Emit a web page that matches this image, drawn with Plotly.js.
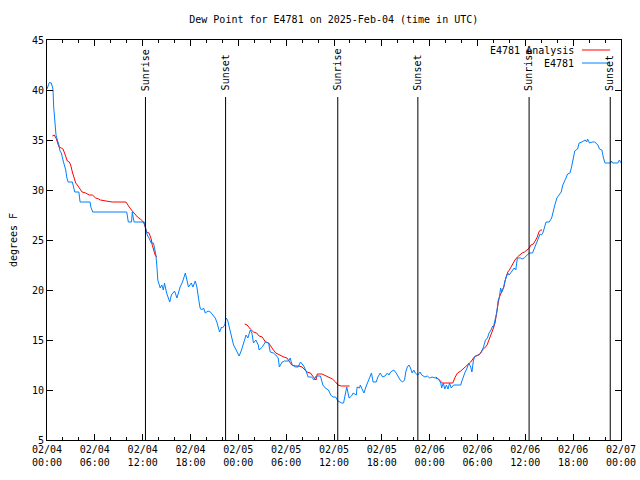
<!DOCTYPE html>
<html><head><meta charset="utf-8">
<script src="https://cdn.plot.ly/plotly-3.0.1.min.js"></script>
<style>html,body{margin:0;padding:0;background:#fff}#c{width:640px;height:480px}</style>
</head><body><div id="c"></div>
<script>
// hours after 2025-02-04 00:00 UTC
const startDate = Date.UTC(2025, 1, 4);
const obsHours = [0.0,0.3,0.54,0.67,0.75,0.84,1.0,1.13,1.3,1.5,1.63,1.8,2.0,2.2,2.35,2.47,2.64,3.18,3.3,3.48,4.0,4.1,4.15,5.4,5.5,5.74,10.0,10.1,10.2,10.6,10.7,10.8,10.93,12.2,12.4,12.57,12.8,13.07,13.36,13.5,13.66,13.8,13.9,14.2,14.4,14.6,14.74,15.0,15.4,15.6,16.0,16.3,16.7,17.0,17.35,17.55,17.75,18.1,18.3,18.6,18.8,19.0,19.2,19.4,19.64,19.85,20.2,20.5,20.8,21.1,21.3,21.5,21.65,21.9,22.0,22.3,22.45,22.65,22.9,23.1,23.4,23.6,23.8,24.1,24.4,24.67,24.97,25.2,25.5,25.7,25.9,26.2,26.5,26.6,27.0,27.4,27.8,28.0,28.4,28.7,29.0,29.15,29.5,29.8,30.3,30.5,30.75,31.2,31.5,31.8,32.2,32.5,32.75,33.2,33.5,33.75,34.3,34.6,34.9,35.3,35.6,35.85,36.2,36.5,36.95,37.2,37.4,37.6,37.9,38.2,38.4,38.8,38.9,39.2,39.3,39.5,39.75,40.0,40.2,40.4,40.7,40.9,41.3,41.5,41.8,42.1,42.4,42.7,42.9,43.1,43.5,43.8,44.1,44.3,44.6,44.85,45.0,45.2,45.4,45.6,45.8,46.0,46.2,46.5,46.8,47.0,47.4,47.7,48.0,48.3,48.7,49.1,49.4,49.5,49.7,49.9,50.1,50.3,50.5,50.7,51.0,51.6,51.9,52.0,52.2,52.4,52.7,52.9,53.15,53.3,53.5,53.7,54.2,54.5,54.75,55.0,55.25,55.45,55.7,55.9,56.0,56.3,56.4,56.5,56.6,56.75,56.9,57.05,57.3,57.4,57.6,57.8,57.97,58.2,58.4,58.6,58.8,59.0,59.4,59.6,59.85,60.3,60.5,60.9,61.2,61.35,61.6,61.85,62.0,62.2,62.6,63.0,63.3,63.5,63.7,63.96,64.25,64.5,64.7,64.9,65.1,65.3,65.6,65.8,66.06,66.2,66.55,66.75,67.1,67.5,67.7,67.8,68.05,68.4,68.7,69.1,69.3,69.6,69.8,70.0,70.7,70.8,70.95,71.6,71.8,72.0];
const obsDew = [40.1,40.75,40.7,40.3,40.1,38.3,36.2,35.5,35.0,34.5,33.9,33.7,33.0,32.5,32.0,31.3,30.8,30.8,30.3,29.8,29.8,29.3,28.8,28.8,28.3,27.8,27.8,27.3,26.8,26.8,27.8,27.3,26.8,26.8,26.0,25.5,25.2,24.7,24.7,24.2,23.5,22.2,21.0,20.2,20.5,20.0,20.7,19.7,18.8,19.5,19.9,19.2,20.3,20.8,21.7,21.0,20.3,20.7,20.3,20.9,20.3,19.2,18.2,18.0,18.2,17.7,17.9,17.8,17.5,17.2,16.8,16.3,15.8,16.3,16.2,16.5,17.2,17.0,16.2,15.5,14.5,14.2,13.8,13.4,14.0,14.8,15.5,15.2,16.0,15.7,14.7,15.0,14.5,14.0,14.3,14.8,14.7,13.8,13.7,13.5,13.2,12.3,12.8,12.9,12.9,13.2,12.5,12.3,12.3,12.8,12.4,11.9,11.3,11.3,11.0,11.4,11.4,10.5,10.2,10.0,9.5,9.3,9.3,8.9,8.7,8.7,9.5,10.3,9.2,9.4,9.7,9.5,10.3,10.2,10.5,10.2,9.7,10.3,10.7,11.0,11.7,10.8,10.8,11.3,11.7,11.3,11.4,11.7,11.5,11.8,12.0,11.7,11.3,11.0,10.8,11.0,11.8,12.3,12.5,12.2,11.7,12.0,11.7,11.5,11.8,11.5,11.3,11.4,11.2,11.3,11.2,11.1,10.7,10.2,10.7,10.1,10.5,10.1,10.7,10.2,10.5,10.5,10.5,10.8,11.3,11.7,12.2,12.7,12.3,11.8,13.0,13.4,13.5,13.8,14.3,15.0,15.2,15.7,16.0,16.4,16.3,17.3,17.7,18.3,19.0,19.3,20.2,19.8,20.3,20.8,21.3,21.7,21.5,21.8,22.0,22.2,22.0,23.2,23.2,23.1,23.2,23.5,23.7,23.7,24.3,24.7,25.0,25.6,25.5,25.7,26.8,26.8,27.2,28.0,28.5,29.2,29.5,29.8,30.5,30.8,31.2,31.6,31.7,32.3,33.2,33.9,34.1,34.7,34.8,35.0,34.8,35.1,34.7,34.8,34.8,34.5,34.1,34.0,33.2,32.7,32.7,32.9,32.7,32.7,33.0,32.7];
const anaHours = [0.67,0.9,1.13,1.3,1.5,1.8,2.0,2.2,2.35,2.55,2.8,2.97,3.18,3.4,3.6,3.8,4.0,4.2,4.4,4.86,5.3,5.7,6.1,6.5,6.7,7.4,8.2,9.9,10.1,10.4,10.7,11.0,11.35,11.7,12.0,12.2,12.5,12.8,13.07,13.2,13.4,13.57,13.78,14.0,
 24.8,25.1,25.5,25.9,26.3,26.6,27.0,27.4,27.8,28.1,28.4,28.7,29.15,29.7,30.1,30.4,30.7,31.2,31.6,32.0,32.3,32.6,33.05,33.3,33.6,33.75,33.9,34.5,34.8,35.3,35.8,36.2,36.5,36.9,37.5,37.95,40.0,
 48.75,49.1,49.6,50.0,50.5,50.9,51.2,51.5,51.9,52.3,52.7,53.15,53.6,54.0,54.3,54.6,54.9,55.2,55.4,55.6,55.9,56.0,56.2,56.3,56.5,56.6,56.75,57.0,57.3,57.55,57.8,58.0,58.2,58.4,58.7,59.0,59.3,59.6,59.9,60.2,60.5,60.7,61.0,61.3,61.5,61.7,61.9,62.1];
const anaDew = [35.4,35.5,35.2,34.8,34.3,34.2,34.1,33.7,33.3,32.9,32.8,32.5,31.8,31.3,30.7,30.5,30.3,30.0,29.8,29.7,29.5,29.5,29.2,29.1,29.0,28.9,28.8,28.8,28.5,28.2,27.9,27.6,27.3,27.1,26.9,26.6,25.8,25.7,25.1,24.5,24.0,23.5,23.3,null,
 16.6,16.5,16.1,15.8,15.7,15.4,15.3,14.8,14.7,14.3,14.0,13.7,13.5,13.3,13.2,12.9,12.5,12.4,12.4,12.3,12.0,11.8,11.7,11.4,11.1,11.0,11.6,11.6,11.5,11.3,11.1,10.8,10.5,10.4,10.4,10.4,null,
 11.3,11.1,10.7,10.7,10.7,10.7,11.3,11.7,11.9,12.2,12.5,12.8,13.3,13.5,13.6,14.0,14.2,14.5,14.9,15.3,15.8,16.2,16.7,17.3,18.2,18.7,19.3,19.8,20.3,21.2,21.8,22.0,22.3,22.7,23.0,23.3,23.5,23.7,23.8,24.0,24.2,24.5,24.6,25.0,25.3,25.8,26.0,26.0];
const sunHours = [12.35,22.4,36.47,46.52,60.47,70.65];
const sunLabels = ['Sunrise','Sunset','Sunrise','Sunset','Sunrise','Sunset'];
const seriesNames = ['E4781 Analysis','E4781'];
const seriesColors = ['#ff0000','#0080ff'];

function toDate(h){
  const d = new Date(startDate + h*3600000);
  return d.toISOString().slice(0,19).replace('T',' ');
}
const FONT = 'DejaVu Sans Mono, Liberation Mono, monospace';

const traces = [
  {x: anaHours.map(toDate), y: anaDew, type:'scatter', mode:'lines', name: seriesNames[0],
   line:{color: seriesColors[0], width:1}, connectgaps:false},
  {x: obsHours.map(toDate), y: obsDew, type:'scatter', mode:'lines', name: seriesNames[1],
   line:{color: seriesColors[1], width:1}}
];

const shapes = [];
const annotations = [];
sunHours.forEach((h,i)=>{
  shapes.push({type:'line', xref:'x', yref:'paper', x0:toDate(h), x1:toDate(h), y0:0, y1:0.8575,
    line:{color:'#000', width:1}});
  annotations.push({xref:'x', yref:'paper', x:toDate(h), y:0.868, text:sunLabels[i], textangle:-90,
    showarrow:false, xanchor:'center', yanchor:'bottom', font:{family:FONT, size:10, color:'#000'}});
});
// legend (drawn manually to mimic the reference key)
const legY = [0.975, 0.9425];
seriesNames.forEach((n,i)=>{
  annotations.push({xref:'paper', yref:'paper', x:0.922, y:legY[i], text:n, showarrow:false,
    xanchor:'right', yanchor:'middle', font:{family:FONT, size:10, color:'#000'}});
  shapes.push({type:'line', xref:'paper', yref:'paper', x0:0.932, x1:0.981, y0:legY[i], y1:legY[i],
    line:{color:seriesColors[i], width:1}});
});

const layout = {
  width:640, height:480,
  margin:{l:47, r:19, t:40, b:40},
  paper_bgcolor:'#fff', plot_bgcolor:'#fff',
  showlegend:false,
  font:{family:FONT, size:10, color:'#000'},
  title:{text:'Dew Point for E4781 on 2025-Feb-04 (time in UTC)', x:0.5215, xanchor:'center', y:0.96, yanchor:'middle',
    font:{family:FONT, size:10, color:'#000'}},
  xaxis:{type:'date', range:[toDate(0), toDate(72)], tick0:toDate(0), dtick:6*3600000,
    tickformat:'%m/%d<br>%H:%M', ticks:'inside', ticklen:6, tickcolor:'#000',
    showline:true, linecolor:'#000', linewidth:1, mirror:'ticks', showgrid:false, zeroline:false,
    minor:{dtick:2*3600000, ticks:'inside', ticklen:3, tickcolor:'#000', showgrid:false},
    tickfont:{family:FONT, size:10}},
  yaxis:{range:[5,45], dtick:5, ticks:'inside', ticklen:6, tickcolor:'#000',
    showline:true, linecolor:'#000', linewidth:1, mirror:'ticks', showgrid:false, zeroline:false,
    title:{text:'degrees F', standoff:12, font:{family:FONT, size:10}},
    tickfont:{family:FONT, size:10}},
  shapes:shapes, annotations:annotations
};
Plotly.newPlot('c', traces, layout, {staticPlot:true, displayModeBar:false});
</script></body></html>
